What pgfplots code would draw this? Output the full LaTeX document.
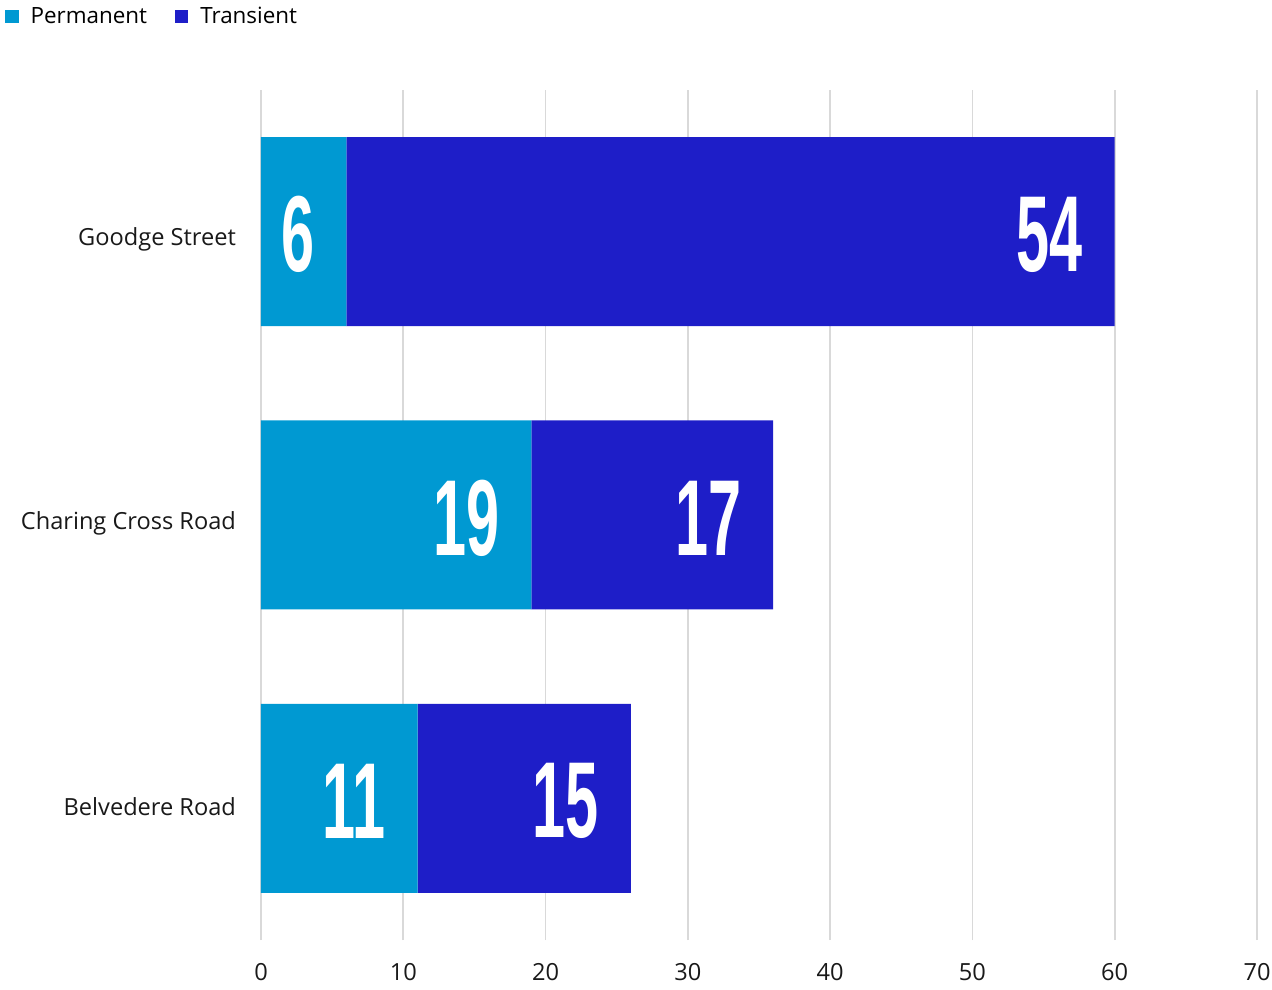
\documentclass[border=0pt]{standalone}
\usepackage{fontspec}
\setmainfont{Open Sans}
\usepackage{graphicx}
\usepackage{pgfplots}
\pgfplotsset{compat=1.18}
\definecolor{perm}{RGB}{0,153,210}
\definecolor{trans}{RGB}{30,30,200}
\definecolor{gridc}{RGB}{217,217,217}
\newfontfamily\labfont{Liberation Sans}
\newcommand\seglabel[1]{\makebox[\dimexpr #1pt*498/70\relax][r]{\scalebox{0.55}[1]{\labfont\bfseries\fontsize{54}{54}\selectfont #1}\hspace{16pt}}}
\begin{document}
\begin{tikzpicture}
\begin{axis}[
  at={(0,0)}, anchor=south west,
  scale only axis, width=498pt, height=425pt,
  xbar stacked,
  bar width=94.5pt,
  xmin=0, xmax=70, ymin=-0.5, ymax=2.5,
  xtick={0,10,...,70},
  ytick={0,1,2},
  yticklabels={Belvedere Road, Charing Cross Road, Goodge Street},
  axis line style={draw=none},
  xmajorgrids, major grid style={gridc, line width=0.8pt},
  major tick length=0pt,
  tick style={draw=none},
  /pgf/number format/assume math mode=true,
  ticklabel style={font=\fontsize{11.8}{14}\selectfont, text=black!90},
  xticklabel style={yshift=-8pt},
  yticklabel style={xshift=-9pt, yshift=-4pt},
  point meta=explicit symbolic,
  nodes near coords={\seglabel{\pgfplotspointmeta}},
  every node near coord/.append style={anchor=center, text=white, inner sep=0pt, yshift=-1.5pt},
  legend style={at={(axis description cs:-0.263,1.086)}, anchor=west, draw=none, fill=none,
    legend columns=2, font=\fontsize{11.2}{13}\selectfont,
    /tikz/every odd column/.append style={column sep=4pt},
    /tikz/every even column/.append style={column sep=12pt}},
  legend image code/.code={\fill[#1,draw=none] (0pt,-3.3pt) rectangle (6.6pt,3.3pt);},
  clip=false,
]
\addplot[fill=perm, draw=none] coordinates {(11,0) [11] (19,1) [19] (6,2) [6]};
\addplot[fill=trans, draw=none] coordinates {(15,0) [15] (17,1) [17] (54,2) [54]};
\legend{Permanent, Transient}
\end{axis}
\pgfresetboundingbox
\path[use as bounding box] (-130.5pt,-24.5pt) rectangle (505.5pt,470pt);
\end{tikzpicture}
\end{document}
